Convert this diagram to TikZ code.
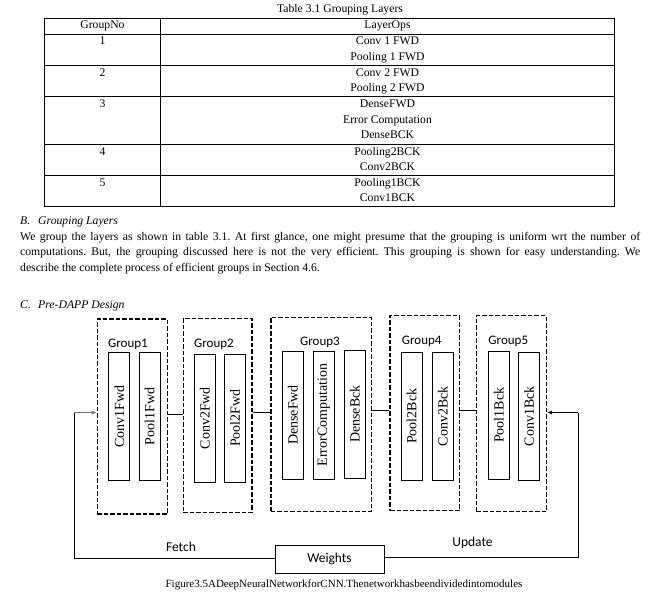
\documentclass[tikz,border=0pt]{standalone}
\usepackage{fontspec}
\setmainfont{Liberation Serif}
\newfontfamily\calfont{Carlito}
\usetikzlibrary{arrows.meta}
\frenchspacing
\begin{document}
\begin{tikzpicture}[x=1pt,y=-1pt,
  tline/.style={line width=0.9pt},
  cell/.style={font=\fontsize{11.7}{14}\selectfont, inner sep=0pt, text height=8pt, text depth=2.5pt},
  grp/.style={draw, line width=1.5pt, dash pattern=on 4.5pt off 2pt, inner sep=0pt},
  layer/.style={draw, line width=0.8pt, inner sep=0pt, rotate=90, minimum width=128pt, minimum height=21pt, font=\fontsize{14}{14}\selectfont},
  glabel/.style={font=\calfont\fontsize{13}{13}\selectfont, inner sep=0pt},
  link/.style={line width=0.8pt},
  wbox/.style={draw, line width=0.8pt, minimum width=109pt, minimum height=28pt, inner sep=0pt, font=\calfont\fontsize{13.5}{13.5}\selectfont}
]
\useasboundingbox (0,0) rectangle (653,599);

% ---------- table ----------
\node[cell] (title) at (340,10) {Table 3.1 Grouping Layers};
\draw[tline] (44.3,18.3) rectangle (614.3,206.3);
\draw[tline] (160.7,18.3) -- (160.7,206.3);
\foreach \yy in {34.3,65.3,96.7,144.3,175.3} \draw[tline] (44.3,\yy) -- (614.3,\yy);

\node[cell] (h1) at (102.5,26) {GroupNo};
\node[cell] (h2) at (387.5,26) {LayerOps};
\node[cell] (n1) at (102.5,42) {1};
\node[cell] (r1a) at (387.5,42) {Conv 1 FWD};
\node[cell] (r1b) at (387.5,57.5) {Pooling 1 FWD};
\node[cell] (n2) at (102.5,73.5) {2};
\node[cell] (r2a) at (387.5,73.5) {Conv 2 FWD};
\node[cell] (r2b) at (387.5,89) {Pooling 2 FWD};
\node[cell] (n3) at (102.5,105) {3};
\node[cell] (r3a) at (387.5,105) {DenseFWD};
\node[cell] (r3b) at (387.5,120.5) {Error Computation};
\node[cell] (r3c) at (387.5,136) {DenseBCK};
\node[cell] (n4) at (102.5,152.5) {4};
\node[cell] (r4a) at (387.5,152.5) {Pooling2BCK};
\node[cell] (r4b) at (387.5,168) {Conv2BCK};
\node[cell] (n5) at (102.5,183.5) {5};
\node[cell] (r5a) at (387.5,183.5) {Pooling1BCK};
\node[cell] (r5b) at (387.5,199) {Conv1BCK};

% ---------- text ----------
\node[anchor=north west, inner sep=0pt, text width=620pt, align=justify,
      font=\fontsize{11.7}{15.5}\selectfont] (para) at (20,217)
 {\makebox[18pt][l]{\itshape B.}\textit{Grouping Layers}\\
  We group the layers as shown in table 3.1. At first glance, one might presume that the grouping is uniform wrt the number of\linebreak
  computations. But, the grouping discussed here is not the very efficient. This grouping is shown for easy understanding. We\linebreak
  describe the complete process of efficient groups in Section 4.6.};
\node[anchor=west, cell] (secC) at (20,306) {\makebox[18pt][l]{\itshape C.}\textit{Pre-DAPP Design}};

% ---------- diagram ----------
\node[grp, minimum width=70pt, minimum height=195pt] (g1) at (132.3,416.5) {};
\node[grp, minimum width=68.7pt, minimum height=194pt] (g2) at (217.7,415.3) {};
\node[grp, minimum width=100.5pt, minimum height=194.4pt] (g3) at (321.2,414.5) {};
\node[grp, minimum width=69.3pt, minimum height=195pt] (g4) at (424.7,413.2) {};
\node[grp, minimum width=69.6pt, minimum height=196pt] (g5) at (511.5,413.7) {};

\node[glabel] (l1) at (128,344) {Group1};
\node[glabel] (l2) at (214,344) {Group2};
\node[glabel] (l3) at (320,342) {Group3};
\node[glabel] (l4) at (421.7,341) {Group4};
\node[glabel] (l5) at (508.3,341) {Group5};

\node[layer] (c1f) at (119.3,416.5) {Conv1Fwd};
\node[layer] (p1f) at (149.7,416.5) {Pool1Fwd};
\node[layer] (c2f) at (204.8,418.2) {Conv2Fwd};
\node[layer] (p2f) at (235,418.2) {Pool2Fwd};
\node[layer] (df) at (292.8,415) {DenseFwd};
\node[layer] (ec) at (323.8,415) {ErrorComputation};
\node[layer] (db) at (354.8,414) {DenseBck};
\node[layer] (p2b) at (411.7,416.3) {Pool2Bck};
\node[layer] (c2b) at (442.8,416.3) {Conv2Bck};
\node[layer] (p1b) at (498.8,415.2) {Pool1Bck};
\node[layer] (c1b) at (529,416.3) {Conv1Bck};

\coordinate (y12) at (0,414);
\coordinate (y23) at (0,412);
\coordinate (y34) at (0,410);
\coordinate (y45) at (0,410);
\draw[link] (g1.east |- y12) -- (g2.west |- y12);
\draw[link] (g2.east |- y23) -- (g3.west |- y23);
\draw[link] (g3.east |- y34) -- (g4.west |- y34);
\draw[link] (g4.east |- y45) -- (g5.west |- y45);

\node[wbox] (w) at (329.5,559) {Weights};
\node[glabel, font=\calfont\fontsize{13.5}{13.5}\selectfont] (fetch) at (181,546.5) {Fetch};
\node[glabel, font=\calfont\fontsize{13.5}{13.5}\selectfont] (upd) at (472.5,543) {Update};

\coordinate (fl) at (74.3,558.5);
\coordinate (fu) at (74.3,412.7);
\coordinate (ul) at (578.3,557.5);
\coordinate (uu) at (578.3,412.5);
\draw[link] (w.west |- fl) -- (fl) -- (fu);
\draw[link, black!55, -{Latex[length=5pt,width=4pt]}] (fu) -- (g1.west |- fu);
\draw[link] (w.east |- ul) -- (ul) -- (uu);
\draw[link, -{Latex[length=5pt,width=4pt]}] (uu) -- (g5.east |- uu);

\node[cell, font=\fontsize{11}{13}\selectfont] (cap) at (344,584.5) {Figure3.5ADeepNeuralNetworkforCNN.Thenetworkhasbeendividedintomodules};
\end{tikzpicture}
\end{document}
